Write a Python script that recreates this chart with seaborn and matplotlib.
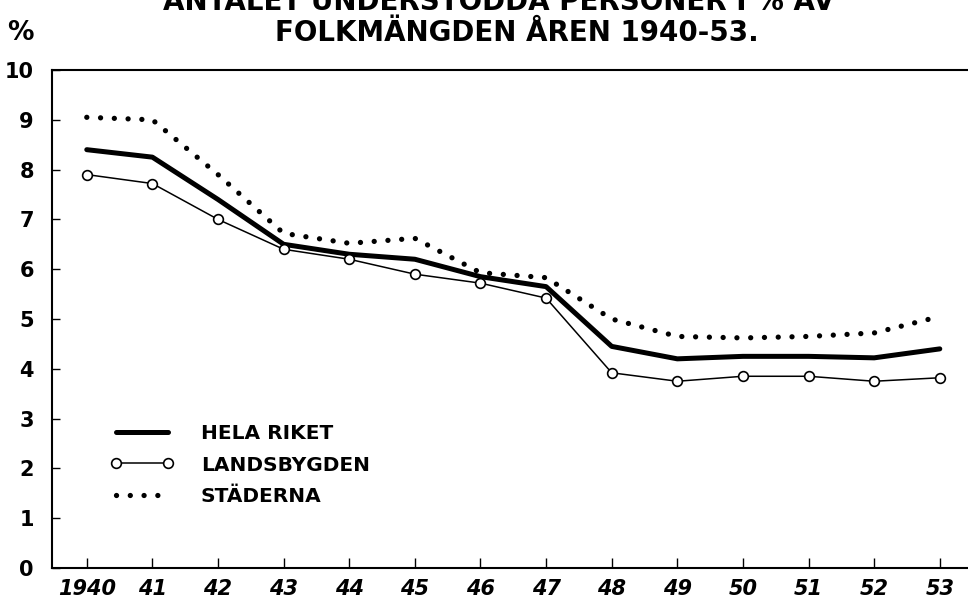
import matplotlib
matplotlib.use('Agg')
import matplotlib.pyplot as plt
import seaborn as sns

years = [1940, 1941, 1942, 1943, 1944, 1945, 1946, 1947, 1948, 1949, 1950, 1951, 1952, 1953]
year_labels = ['1940', '41', '42', '43', '44', '45', '46', '47', '48', '49', '50', '51', '52', '53']
hela_riket = [8.4, 8.25, 7.4, 6.5, 6.3, 6.2, 5.85, 5.65, 4.45, 4.2, 4.25, 4.25, 4.22, 4.4]
landsbygden = [7.9, 7.72, 7.0, 6.4, 6.2, 5.9, 5.72, 5.42, 3.92, 3.75, 3.85, 3.85, 3.75, 3.82]
staderna = [9.05, 9.0, 7.9, 6.72, 6.52, 6.62, 5.93, 5.83, 5.0, 4.65, 4.62, 4.65, 4.72, 5.05]
y_ticks = [0, 1, 2, 3, 4, 5, 6, 7, 8, 9, 10]

sns.set_style('ticks')
plt.rcParams['font.family'] = ['DejaVu Sans']
plt.rcParams['font.weight'] = 'bold'
for key in ['text.color', 'axes.edgecolor', 'xtick.color', 'ytick.color',
            'axes.labelcolor', 'xtick.labelcolor', 'ytick.labelcolor']:
    plt.rcParams[key] = 'black'

fig = plt.figure(figsize=(9.68, 6.01), dpi=100)
ax = fig.add_axes([52 / 968, 1 - 568 / 601, 1 - 52 / 968, (568 - 70) / 601])

sns.lineplot(x=years, y=hela_riket, ax=ax, color='black', linewidth=3.6,
             solid_capstyle='round', label='HELA RIKET')
sns.lineplot(x=years, y=landsbygden, ax=ax, color='black', linewidth=1.1,
             marker='o', markersize=7, markerfacecolor='white',
             markeredgecolor='black', markeredgewidth=1.2, label='LANDSBYGDEN')
sns.lineplot(x=years, y=staderna, ax=ax, color='black', linewidth=3.8,
             dashes=(0.01, 2.6), dash_capstyle='round', label='STÄDERNA')

ax.set_xlim(1939.47, 1953.43)
ax.set_ylim(0, 10)
ax.set_xticks(years)
ax.set_xticklabels(year_labels, fontsize=15, fontstyle='italic', fontweight='bold')
ax.set_yticks(y_ticks)
ax.set_yticklabels([str(t) for t in y_ticks], fontsize=15, fontweight='bold')
ax.tick_params(axis='x', direction='in', length=7, width=1, pad=8)
ax.tick_params(axis='y', direction='in', length=6, width=1, pad=13)
ax.spines['right'].set_visible(False)
for s in ['left', 'bottom', 'top']:
    ax.spines[s].set_linewidth(1.5)
ax.set_xlabel('')
ax.set_ylabel('')

leg = ax.legend(loc='upper left', bbox_to_anchor=(50 / 916, 1 - (416 - 70) / 498),
                frameon=False, fontsize=14.5, handlelength=3.2, handletextpad=1.3,
                labelspacing=0.62, numpoints=2, borderaxespad=0)

fig.text(0.515, 1 - 2 / 601, 'ANTALET UNDERSTÖDDA PERSONER I % AV', ha='center', va='center',
         fontsize=20, fontweight='bold')
fig.text(0.534, 1 - 33 / 601, 'FOLKMÄNGDEN ÅREN 1940-53.', ha='center', va='center',
         fontsize=20, fontweight='bold')
fig.text(20 / 968, 1 - 33 / 601, '%', ha='center', va='center', fontsize=19, fontweight='bold')

fig.savefig('out.png', dpi=100)
